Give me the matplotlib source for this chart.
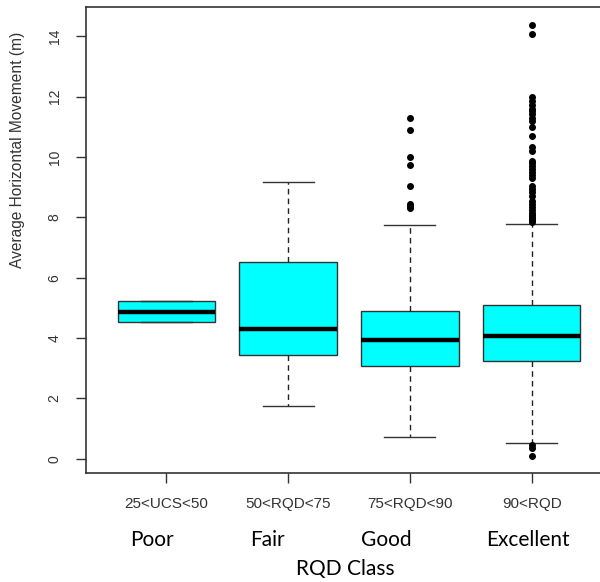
import matplotlib
matplotlib.use("Agg")
import matplotlib.pyplot as plt

categories = ["25<UCS<50", "50<RQD<75", "75<RQD<90", "90<RQD"]
classes = ["Poor", "Fair", "Good", "Excellent"]
q1 = [4.52, 3.44, 3.06, 3.23]
med = [4.88, 4.30, 3.94, 4.08]
q3 = [5.24, 6.51, 4.91, 5.10]
whislo = [4.52, 1.76, 0.72, 0.52]
whishi = [5.24, 9.18, 7.74, 7.78]
fliers_poor = []
fliers_fair = []
fliers_good = [11.29, 10.89, 10.01, 9.75, 9.03, 8.44, 8.36, 8.31]
fliers_excellent = [14.37, 14.07, 11.98, 11.85, 11.72, 11.60, 11.52, 11.42, 11.30,
                    11.18, 11.00, 10.68, 10.32, 10.20, 9.88, 9.80, 9.70, 9.60, 9.50,
                    9.42, 9.30, 9.05, 8.95, 8.85, 8.70, 8.55, 8.45, 8.35, 8.25, 8.15,
                    8.08, 8.02, 7.96, 7.90, 7.85, 0.46, 0.37, 0.10]
fliers = [fliers_poor, fliers_fair, fliers_good, fliers_excellent]
yticks = [0, 2, 4, 6, 8, 10, 12, 14]

stats = []
for i in range(len(categories)):
    stats.append(dict(label=categories[i], q1=q1[i], med=med[i], q3=q3[i],
                      whislo=whislo[i], whishi=whishi[i], fliers=fliers[i]))

fig = plt.figure(figsize=(6, 5.82), dpi=100)
ax = fig.add_axes([86 / 600, 1 - 473 / 582, 526 / 600, 466 / 582])

ax.bxp(stats, positions=[1, 2, 3, 4], widths=0.8, patch_artist=True,
       boxprops=dict(facecolor="#00FFFF", edgecolor="#333333", linewidth=1.0),
       medianprops=dict(color="black", linewidth=3.2, solid_capstyle="butt"),
       whiskerprops=dict(color="#222222", linewidth=1.0, linestyle=(0, (4, 3))),
       capprops=dict(color="#333333", linewidth=1.0),
       capwidths=0.42,
       flierprops=dict(marker="o", markerfacecolor="black", markeredgecolor="black",
                       markersize=4.0, linestyle="none"))

ax.set_xlim(0.34, 4.66)
ax.set_ylim(-0.47, 14.97)
ax.set_yticks(yticks)
ax.set_yticklabels([str(t) for t in yticks], rotation=90, va="center",
                   fontsize=10, color="#333333", family="Liberation Sans")
ax.set_xticks([1, 2, 3, 4])
ax.set_xticklabels(categories, fontsize=11, color="#333333", family="Liberation Sans")
ax.tick_params(axis="both", direction="out", length=7.5, width=1.0, color="#333333")
ax.tick_params(axis="y", pad=10)
ax.tick_params(axis="x", pad=10)
for s in ax.spines.values():
    s.set_color("#333333")
    s.set_linewidth(1.2)

fig.text(18 / 600, 1 - 150 / 582, "Average Horizontal Movement (m)", rotation=90,
         ha="center", va="center", fontsize=11.2, color="#333333", family="Liberation Sans")

cls_x = [152, 267, 386, 528]
for name, xp in zip(classes, cls_x):
    fig.text(xp / 600, 1 - 540 / 582, name, ha="center", va="center",
             fontsize=15, color="black", family="Lato")
fig.text(345 / 600, 1 - 569 / 582, "RQD Class", ha="center", va="center",
         fontsize=15, color="black", family="Lato")

fig.savefig("out.png", dpi=100)
